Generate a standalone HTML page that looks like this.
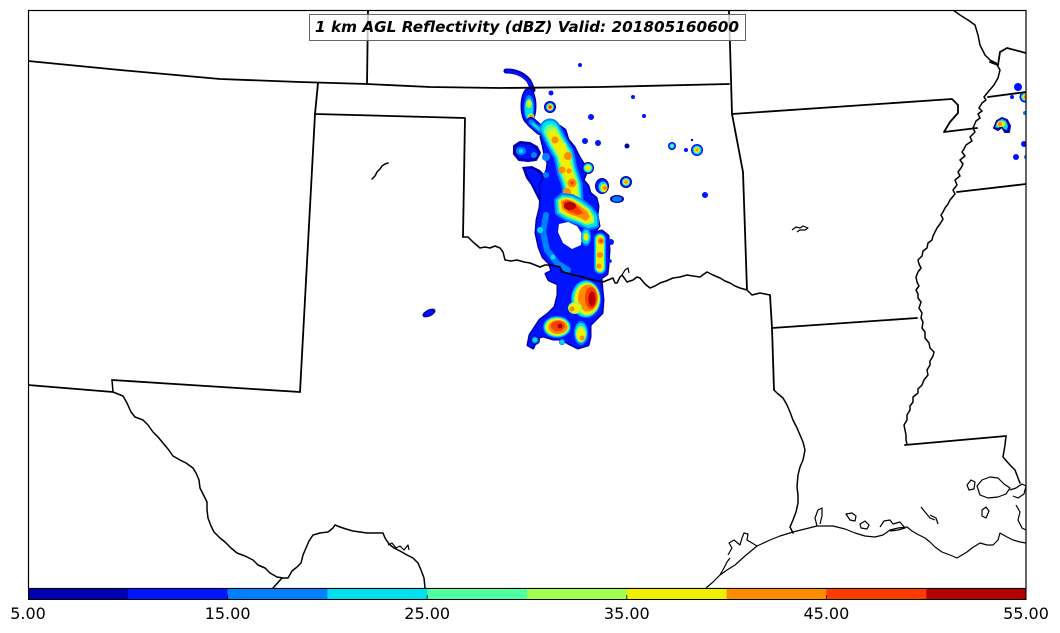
<!DOCTYPE html>
<html><head><meta charset="utf-8"><style>
html,body{margin:0;padding:0;background:#fff;}
svg{display:block;}
.s{fill:none;stroke:#000;stroke-width:1.8;stroke-linejoin:round;stroke-linecap:round;}
.r{fill:none;stroke:#000;stroke-width:1.5;stroke-linejoin:round;stroke-linecap:round;}
.c{fill:none;stroke:#000;stroke-width:1.2;stroke-linejoin:round;}
.k{fill:none;stroke-linecap:round;stroke-linejoin:round;}
</style></head><body>
<svg width="1060" height="633" viewBox="0 0 1060 633" xmlns="http://www.w3.org/2000/svg">
<defs><clipPath id="m"><rect x="28" y="10" width="998" height="578"/></clipPath></defs>
<rect width="1060" height="633" fill="#fff"/>
<g clip-path="url(#m)">
<!-- arc -->
<path d="M506,71 Q521,71 529,81 L533,90" class="k" stroke="#0000b0" stroke-width="5"/>
<path d="M507,71 Q521,72 529,82 L532,89" class="k" stroke="#0014ff" stroke-width="2.5"/>
<!-- cell A -->
<ellipse cx="528.5" cy="106" rx="8" ry="18.5" fill="#0000b0"/>
<ellipse cx="528.5" cy="106" rx="6.5" ry="17" fill="#0014ff"/>
<ellipse cx="529" cy="108" rx="5" ry="13" fill="#0080ff"/>
<ellipse cx="529" cy="109" rx="4" ry="11" fill="#00e0f0"/>
<ellipse cx="529" cy="104" rx="3" ry="4" fill="#a0ff50"/>
<circle cx="529" cy="103" r="2" fill="#f0f000"/>
<circle cx="531" cy="117" r="3.5" fill="#a0ff50"/>
<circle cx="531" cy="117.5" r="2.5" fill="#ff8c00"/>
<circle cx="531" cy="118" r="1.3" fill="#ff3c00"/>
<path d="M531,122 L540,130 L550,134" class="k" stroke="#0000b0" stroke-width="10"/>
<path d="M531,122 L540,130 L550,134" class="k" stroke="#0014ff" stroke-width="8"/>
<path d="M531,122 L540,130 L550,134" class="k" stroke="#0080ff" stroke-width="5"/>
<path d="M533,124 L540,130 L548,133" class="k" stroke="#00e0f0" stroke-width="2.5"/>
<!-- cell B -->
<circle cx="550" cy="107" r="6" fill="#0000b0"/>
<circle cx="550" cy="107" r="5" fill="#0014ff"/>
<circle cx="550" cy="107" r="4" fill="#00e0f0"/>
<circle cx="550" cy="107" r="3" fill="#f0f000"/>
<circle cx="550" cy="107" r="1.8" fill="#ff3c00"/>
<!-- left blob -->
<path d="M514,146 L520,142 L530,143 L537,147 L540,153 L536,160 L528,161 L519,160 L514,154 Z" fill="#0000b0" stroke="#0000b0" stroke-width="2" stroke-linejoin="round"/>
<path d="M516,147 L521,144 L530,145 L536,149 L538,154 L534,158 L527,159 L519,158 L516,153 Z" fill="#0014ff"/>
<ellipse cx="521" cy="151" rx="5" ry="4" fill="#0080ff"/>
<circle cx="521" cy="151" r="2" fill="#00e0f0"/>
<circle cx="534" cy="155" r="3" fill="#0080ff"/>
<!-- streak -->
<path d="M522,167 L532,166 L540,170 L546,176 L547,188 L545,200 L539,201 L535,193 L531,185 L526,178 Z" fill="#0000b0"/>
<path d="M526,169 L533,169 L540,174 L543,182 L542,195 L538,194 L533,184 L528,176 Z" fill="#0014ff"/>
<!-- big band polygon -->
<path d="M544,127 L556,124 L565,130 L568,140 L574,147 L579,157 L584,165 L586,173 L583,180 L588,186 L590,193 L596,198 L598,206 L597,215 L599,226 L596,230 L594,233 L602,231 L608,236 L609,250 L608,265 L607,274 L601,278 L602,290 L603,300 L602,313 L595,320 L590,325 L590,337 L588,345 L578,348 L568,343 L561,339 L553,339 L543,336 L537,338 L533,348 L528,345 L530,335 L540,320 L548,314 L555,307 L558,295 L558,284 L549,280 L546,274 L552,271 L549,263 L543,257 L539,247 L536,233 L537,220 L540,208 L541,195 L540,185 L544,177 L547,170 L548,163 L545,155 L543,145 L541,137 Z" fill="#0000b0" stroke="#0000b0" stroke-width="3" stroke-linejoin="round"/>
<path d="M544,127 L556,124 L565,130 L568,140 L574,147 L579,157 L584,165 L586,173 L583,180 L588,186 L590,193 L596,198 L598,206 L597,215 L599,226 L596,230 L594,233 L602,231 L608,236 L609,250 L608,265 L607,274 L601,278 L602,290 L603,300 L602,313 L595,320 L590,325 L590,337 L588,345 L578,348 L568,343 L561,339 L553,339 L543,336 L537,338 L533,348 L528,345 L530,335 L540,320 L548,314 L555,307 L558,295 L558,284 L549,280 L546,274 L552,271 L549,263 L543,257 L539,247 L536,233 L537,220 L540,208 L541,195 L540,185 L544,177 L547,170 L548,163 L545,155 L543,145 L541,137 Z" fill="#0014ff"/>
<circle cx="546" cy="157" r="4" fill="#0080ff"/>
<circle cx="546" cy="175" r="3" fill="#0080ff"/>
<!-- upper spine -->
<path d="M550,129 L556,141 L564,155 L567,170 L572,185 L573,200" class="k" stroke="#0080ff" stroke-width="21"/>
<path d="M550,129 L556,141 L564,155 L567,170 L572,185 L573,200" class="k" stroke="#00e0f0" stroke-width="17"/>
<path d="M551,131 L556,141 L564,155 L567,170 L572,185 L573,200" class="k" stroke="#50ffa0" stroke-width="14"/>
<path d="M552,133 L556,141 L564,155 L567,170 L572,185 L573,200" class="k" stroke="#a0ff50" stroke-width="12"/>
<path d="M553,135 L557,142 L564,155 L567,170 L572,185 L573,200" class="k" stroke="#f0f000" stroke-width="9"/>
<circle cx="555" cy="140" r="3.5" fill="#ff8c00"/>
<circle cx="568" cy="156" r="4" fill="#ff8c00"/>
<circle cx="562" cy="170" r="3.5" fill="#ff8c00"/>
<circle cx="569" cy="171" r="2.5" fill="#ff8c00"/>
<circle cx="572" cy="183" r="4.5" fill="#ff8c00"/>
<circle cx="567" cy="192" r="4" fill="#ff8c00"/>
<circle cx="572" cy="183" r="1.8" fill="#ff3c00"/>
<circle cx="564" cy="145" r="2" fill="#f0f000"/>
<!-- red core -->
<path d="M556,200 L562,195 L572,196 L582,201 L591,208 L597,216 L597,226 L588,228 L578,223 L566,219 L557,213 Z" fill="#0080ff" stroke="#0080ff" stroke-width="4" stroke-linejoin="round"/>
<path d="M556,200 L562,195 L572,196 L582,201 L591,208 L597,216 L597,226 L588,228 L578,223 L566,219 L557,213 Z" fill="#00e0f0"/>
<path d="M558,200 L563,197 L572,198 L581,203 L589,209 L594,216 L594,223 L587,225 L578,221 L567,217 L559,212 Z" fill="#a0ff50"/>
<path d="M559,201 L564,198 L572,199 L580,204 L588,210 L592,216 L592,221 L586,223 L578,219 L568,216 L560,211 Z" fill="#f0f000"/>
<path d="M561,201 L566,199 L573,201 L580,206 L587,211 L590,217 L586,221 L578,217 L569,214 L562,209 Z" fill="#ff8c00"/>
<path d="M563,202 L568,200 L574,203 L579,208 L583,213 L578,215 L570,212 L564,208 Z" fill="#ff3c00"/>
<ellipse cx="570" cy="206" rx="6" ry="4" fill="#b40000"/>
<!-- hole -->
<path d="M559,224 L568,222 L577,226 L582,234 L581,245 L572,249 L563,243 L558,232 Z" fill="#fff"/>
<ellipse cx="586" cy="237" rx="5" ry="9" fill="#0080ff"/>
<ellipse cx="586" cy="237" rx="4" ry="7" fill="#00e0f0"/>
<ellipse cx="586" cy="237" rx="2.5" ry="4" fill="#f0f000"/>
<!-- right column -->
<path d="M600,239 L600,268" class="k" stroke="#0080ff" stroke-width="12"/>
<path d="M600,239 L600,268" class="k" stroke="#00e0f0" stroke-width="10"/>
<path d="M600,239 L600,268" class="k" stroke="#a0ff50" stroke-width="8"/>
<path d="M600,239 L600,268" class="k" stroke="#f0f000" stroke-width="6.5"/>
<circle cx="601" cy="241" r="3.2" fill="#ff8c00"/>
<circle cx="600" cy="255" r="3" fill="#ff8c00"/>
<circle cx="599" cy="266" r="2.5" fill="#ff8c00"/>
<circle cx="601" cy="241" r="1.5" fill="#ff3c00"/>
<!-- left loop -->
<path d="M546,215 L543,232 L547,250 L557,263 L568,270" class="k" stroke="#0080ff" stroke-width="6"/>
<circle cx="540" cy="230" r="3" fill="#00e0f0"/>
<circle cx="553" cy="257" r="2.5" fill="#00e0f0"/>
<!-- lower big blob -->
<ellipse cx="586" cy="299" rx="15" ry="19" fill="#0080ff"/>
<ellipse cx="586" cy="299" rx="14" ry="18" fill="#00e0f0"/>
<ellipse cx="587" cy="299" rx="13" ry="16.5" fill="#a0ff50"/>
<ellipse cx="587" cy="299" rx="12" ry="15" fill="#f0f000"/>
<ellipse cx="588" cy="298" rx="10" ry="13.5" fill="#ff8c00"/>
<ellipse cx="591" cy="298" rx="6" ry="11" fill="#ff3c00"/>
<ellipse cx="592" cy="299" rx="3.5" ry="7.5" fill="#b40000"/>
<ellipse cx="575" cy="308" rx="7" ry="6" fill="#a0ff50"/>
<ellipse cx="575" cy="308" rx="5.5" ry="4.5" fill="#f0f000"/>
<circle cx="572" cy="309" r="2.5" fill="#ff8c00"/>
<!-- lower-left cell -->
<ellipse cx="557" cy="327" rx="14" ry="11" fill="#0080ff"/>
<ellipse cx="557" cy="327" rx="13" ry="10" fill="#00e0f0"/>
<ellipse cx="557" cy="327" rx="12" ry="9" fill="#a0ff50"/>
<ellipse cx="557" cy="327" rx="11" ry="8.2" fill="#f0f000"/>
<ellipse cx="558" cy="327" rx="9.5" ry="7" fill="#ff8c00"/>
<ellipse cx="558" cy="326" rx="7" ry="5" fill="#ff3c00"/>
<circle cx="560" cy="326" r="2.5" fill="#b40000"/>
<!-- lower-middle -->
<ellipse cx="581" cy="333" rx="7" ry="12" fill="#0080ff"/>
<ellipse cx="581" cy="333" rx="6" ry="10" fill="#00e0f0"/>
<ellipse cx="581" cy="334" rx="5" ry="8" fill="#a0ff50"/>
<ellipse cx="581" cy="335" rx="4" ry="6.5" fill="#f0f000"/>
<circle cx="582" cy="338" r="2.5" fill="#ff8c00"/>
<circle cx="535" cy="340" r="5" fill="#0000b0"/>
<circle cx="535" cy="340" r="3.5" fill="#0080ff"/>
<circle cx="535" cy="340" r="2.2" fill="#00e0f0"/>
<circle cx="562" cy="342" r="3" fill="#0080ff"/>
<circle cx="562" cy="342" r="2" fill="#00e0f0"/>
<!-- right cells near band -->
<circle cx="588" cy="168" r="6" fill="#0000b0"/>
<circle cx="588" cy="168" r="5" fill="#0080ff"/>
<circle cx="588" cy="168" r="4" fill="#50ffa0"/>
<circle cx="588" cy="168" r="2.5" fill="#f0f000"/>
<ellipse cx="602" cy="186" rx="7" ry="8" fill="#0000b0"/>
<ellipse cx="602" cy="186" rx="6" ry="7" fill="#0014ff"/>
<ellipse cx="603" cy="187" rx="4.5" ry="5.5" fill="#00e0f0"/>
<ellipse cx="604" cy="188" rx="3.5" ry="4" fill="#f0f000"/>
<circle cx="605" cy="188" r="2.3" fill="#ff8c00"/>
<circle cx="626" cy="182" r="6" fill="#0000b0"/>
<circle cx="626" cy="182" r="5" fill="#0014ff"/>
<circle cx="626" cy="182" r="4" fill="#00e0f0"/>
<circle cx="626" cy="182" r="3" fill="#f0f000"/>
<circle cx="626" cy="182" r="1.8" fill="#ff8c00"/>
<ellipse cx="617" cy="199" rx="7" ry="4" fill="#0000b0"/>
<ellipse cx="617" cy="199" rx="5" ry="2.8" fill="#0080ff"/>
<circle cx="611" cy="242" r="3" fill="#0014ff"/>
<circle cx="610" cy="261" r="1.8" fill="#0014ff"/>
<!-- scattered dots -->
<circle cx="580" cy="65" r="2" fill="#0014ff"/>
<circle cx="551" cy="93" r="2.5" fill="#0014ff"/>
<circle cx="591" cy="117" r="3" fill="#0014ff"/>
<circle cx="585" cy="141" r="3" fill="#0014ff"/>
<circle cx="598" cy="143" r="3" fill="#0014ff"/>
<circle cx="627" cy="146" r="2.5" fill="#0000b0"/>
<circle cx="633" cy="97" r="2" fill="#0014ff"/>
<circle cx="644" cy="116" r="2" fill="#0014ff"/>
<circle cx="672" cy="146" r="4" fill="#0014ff"/>
<circle cx="672" cy="146" r="2.5" fill="#00e0f0"/>
<circle cx="672" cy="146" r="1.2" fill="#f0f000"/>
<circle cx="686" cy="150" r="2" fill="#0014ff"/>
<circle cx="692" cy="140" r="1.2" fill="#0000b0"/>
<circle cx="697" cy="150" r="6" fill="#0014ff"/>
<circle cx="697" cy="150" r="4.5" fill="#00e0f0"/>
<circle cx="697" cy="150" r="3" fill="#f0f000"/>
<circle cx="697" cy="150" r="1.5" fill="#ff8c00"/>
<circle cx="705" cy="195" r="3" fill="#0014ff"/>
<ellipse cx="429" cy="313" rx="7" ry="3.5" fill="#0000b0" transform="rotate(-25 429 313)"/>
<ellipse cx="429" cy="313" rx="4" ry="2" fill="#0014ff" transform="rotate(-25 429 313)"/>
<!-- right edge -->
<circle cx="1018" cy="87" r="4" fill="#0014ff"/>
<circle cx="1012" cy="97" r="2" fill="#0014ff"/>
<circle cx="1025" cy="97" r="5.5" fill="#0014ff"/>
<circle cx="1025" cy="97" r="4" fill="#00e0f0"/>
<circle cx="1025" cy="97" r="2.8" fill="#f0f000"/>
<circle cx="1025.5" cy="97" r="1.6" fill="#ff8c00"/>
<path d="M994,128 L997,121 L1002,118 L1007,120 L1010,126 L1009,132 L1005,132 L1002,127 L998,130 Z" fill="#0000b0" stroke="#0000b0" stroke-width="2" stroke-linejoin="round"/>
<path d="M995,127 L998,121 L1002,119 L1006,121 L1008,126 L1007,130 L1004,129 L1002,126 L998,128 Z" fill="#00e0f0"/>
<ellipse cx="1001" cy="124" rx="4.5" ry="3" fill="#f0f000"/>
<circle cx="1000" cy="124" r="2.2" fill="#ff8c00"/>
<circle cx="1025" cy="113" r="2" fill="#0080ff"/>
<circle cx="1024" cy="144" r="3" fill="#0014ff"/>
<circle cx="1016" cy="157" r="3" fill="#0014ff"/>
<circle cx="1026" cy="157" r="2" fill="#0080ff"/>

<!-- ===== geography ===== -->
<path class="s" d="M28,61 L120,70 L220,79 L300,82 L367,84 L430,87 L500,88 L600,87 L729,84"/>
<path class="s" d="M368,10 L367,84"/>
<path class="s" d="M318,83 L315,114 L465,118 L463,237"/>
<path class="s" d="M729,10 L732,114 L743,172 L747,290"/>
<path class="s" d="M732,114 L952,99 L958,105 L958,113 L950,122 L944,132 L977,128"/>
<path class="s" d="M772,328 L917,318"/>
<path class="s" d="M770,295 L772,328 L774,390"/>
<path class="s" d="M300,392 L315,114"/>
<path class="s" d="M112,380 L300,392"/>
<path class="s" d="M28,385 L113,392"/>
<path class="s" d="M905,445 L1006,436"/>
<path class="s" d="M957,192 L1026,184"/>
<path class="s" d="M988,97 L1026,92"/>
<path class="s" d="M990,62 L998,65 L1000,52 L1007,48 L1026,53"/>
<!-- Red River -->
<path class="r" d="M463,237 L468,237 L473,242 L480,248 L485,247 L490,248 L495,246 L500,248 L503,252 L505,260 L511,261 L517,260 L524,262 L530,263 L535,265 L540,267 L545,265 L550,265 L556,266 L560,267 L562,272 L567,273 L573,275 L578,276 L583,277 L588,279 L593,280 L598,281 L603,282 L608,280 L613,278 L615,283 L617,283 L620,277 L622,275 L625,279 L627,282 L630,281 L633,280 L637,277 L640,278 L645,284 L650,288 L655,286 L660,283 L666,281 L673,278 L680,277 L687,275 L693,276 L700,277 L704,274 L707,272 L713,275 L720,278 L725,281 L730,283 L735,286 L740,288 L747,290 L752,295 L756,294 L760,293 L765,294 L770,295"/>
<path class="c" d="M622,275 L625,270 L628,268 L629,273"/>
<!-- Rio Grande -->
<path class="r" d="M112,380 L113,392 L118,394 L123,396 L127,403 L131,412 L135,417 L143,420 L148,425 L153,432 L158,437 L163,443 L168,449 L173,456 L180,460 L186,463 L193,468 L196,473 L199,480 L200,488 L204,496 L207,502 L207,510 L208,518 L211,526 L214,532 L220,538 L225,542 L231,548 L237,553 L245,556 L253,560 L258,565 L265,568 L270,573 L277,577 L283,578 L288,578 L292,571 L297,567 L301,563 L303,555 L306,548 L309,541 L313,535 L320,533 L328,532 L333,528 L335,525 L340,527 L346,529 L353,531 L360,532 L367,533 L375,533 L383,533 L385,538 L389,544 L394,548 L400,551 L407,555 L413,558 L418,563 L421,570 L424,578 L425,588"/>
<path class="r" d="M282,578 L273,588"/>
<path class="c" d="M388,545 L392,543 L396,548 L400,546 L404,550 L408,545 L409,550"/>
<!-- Mississippi -->
<path class="r" d="M953,10 L960,15 L968,20 L975,25 L978,35 L980,45 L985,55 L990,60 L996,63 L1000,70 L998,78 L994,85 L988,92 L984,97 L986,100 L982,103 L979,108 L982,111 L978,114 L980,118 L976,121 L973,128 L975,132 L970,137 L972,141 L966,145 L964,149 L962,152 L965,156 L960,160 L963,164 L961,168 L958,172 L960,176 L955,180 L957,185 L953,190 L955,194 L950,200 L948,204 L945,208 L943,212 L941,215 L943,219 L940,224 L937,228 L935,232 L933,236 L932,240 L928,243 L927,248 L923,251 L922,256 L918,260 L919,264 L921,268 L918,272 L916,277 L917,282 L919,286 L916,290 L918,294 L918,298 L921,302 L919,308 L922,313 L921,318 L923,322 L922,328 L925,332 L925,338 L929,343 L930,348 L934,352 L933,356 L930,361 L930,365 L927,370 L928,375 L924,380 L922,385 L918,389 L918,393 L913,397 L913,402 L910,406 L910,410 L907,415 L907,420 L904,425 L905,430 L906,435 L906,440 L907,444"/>
<path class="r" d="M1006,436 L1005,445 L1003,457 L1010,465 L1015,470 L1018,478 L1020,483"/>
<!-- Sabine -->
<path class="r" d="M774,390 L777,393 L783,398 L787,405 L790,412 L793,420 L797,428 L800,435 L803,442 L805,450 L803,460 L800,467 L798,475 L797,487 L798,495 L798,503 L796,512 L793,520 L790,527 L793,533"/>
<!-- Gulf coast -->
<path class="c" d="M706,588 L713,582 L720,575 L727,570 L735,565 L745,556 L757,546 L770,540 L780,536 L793,532 L805,529 L817,526 L833,526 L845,529 L855,533 L865,536 L875,537 L883,535 L890,530 L898,528 L907,527 L912,531 L917,534 L925,538 L930,542 L935,547 L942,552 L950,555 L957,558 L962,555 L967,552 L972,548 L980,543 L987,545 L993,545 L998,540 L1000,533 L1007,537 L1013,540 L1020,542 L1026,543"/>
<path class="c" d="M728,555 L732,548 L729,543 L734,540 L740,545 L742,538 L744,533 L748,534 L747,540 L752,543 L757,546"/>
<path class="c" d="M720,575 L724,568 L727,562 L730,558"/>
<path class="c" d="M817,526 L815,518 L818,510 L822,508 L822,516 L820,524"/>
<path class="c" d="M846,514 L852,513 L856,516 L855,521 L850,520 Z"/>
<path class="c" d="M860,524 L865,521 L869,525 L867,529 L861,528 Z"/>
<path class="c" d="M880,527 L884,521 L890,520 L893,524 L900,522 L905,528 L898,530 L890,531"/>
<path class="c" d="M921,507 L925,512 L930,518 L935,520"/>
<path class="c" d="M967,485 L971,480 L975,482 L974,489 L969,490 Z"/>
<path class="c" d="M977,486 L982,480 L990,477 L998,478 L1004,484 L1010,488 L1006,494 L998,497 L988,498 L980,495 Z"/>
<path class="c" d="M982,510 L986,507 L989,511 L986,518 L982,516 Z"/>
<path class="c" d="M1010,490 L1016,488 L1022,484 L1026,486 L1024,494 L1018,498 L1013,496"/>
<path class="c" d="M1016,505 L1020,512 L1018,520 L1022,528 L1026,530"/>
<path class="c" d="M930,515 L936,518 L938,524"/>
<!-- lakes -->
<path class="r" d="M372,179 L375,176 L377,172 L380,169 L382,166 L385,164 L388,163"/>
<path class="c" d="M792,230 L796,227 L800,228 L803,226 L808,228 L805,230 L800,230 L797,232"/>
</g>
<!-- frame -->
<rect x="28.5" y="10.5" width="997.5" height="578" fill="none" stroke="#000" stroke-width="1.2"/>
<!-- colorbar -->
<rect x="28" y="588" width="100" height="11.5" fill="#0000b0"/>
<rect x="127.8" y="588" width="100" height="11.5" fill="#0014ff"/>
<rect x="227.6" y="588" width="100" height="11.5" fill="#0080ff"/>
<rect x="327.4" y="588" width="100" height="11.5" fill="#00e0f0"/>
<rect x="427.2" y="588" width="100" height="11.5" fill="#50ffa0"/>
<rect x="527" y="588" width="100" height="11.5" fill="#a0ff50"/>
<rect x="626.8" y="588" width="100" height="11.5" fill="#f0f000"/>
<rect x="726.6" y="588" width="100" height="11.5" fill="#ff8c00"/>
<rect x="826.4" y="588" width="100" height="11.5" fill="#ff3c00"/>
<rect x="926.2" y="588" width="99.8" height="11.5" fill="#b40000"/>
<rect x="28.5" y="588.5" width="997.5" height="11" fill="none" stroke="#000" stroke-width="1"/>
<g stroke="#000" stroke-width="0.8">
<line x1="227.6" y1="599.5" x2="227.6" y2="595"/>
<line x1="427.2" y1="599.5" x2="427.2" y2="595"/>
<line x1="626.8" y1="599.5" x2="626.8" y2="595"/>
<line x1="826.4" y1="599.5" x2="826.4" y2="595"/>
</g>
<g font-family="'DejaVu Sans','Liberation Sans',sans-serif" font-size="16" fill="#000" text-anchor="middle">
<text x="28" y="619">5.00</text>
<text x="227.6" y="619">15.00</text>
<text x="427.2" y="619">25.00</text>
<text x="626.8" y="619">35.00</text>
<text x="826.4" y="619">45.00</text>
<text x="1026" y="619">55.00</text>
</g>
<!-- title -->
<rect x="309.5" y="14.5" width="436" height="26" fill="#fff" fill-opacity="0.75" stroke="#666" stroke-width="1"/>
<text x="315" y="32" font-family="'DejaVu Sans','Liberation Sans',sans-serif" font-size="15.2" font-weight="bold" font-style="italic" fill="#000" textLength="424" lengthAdjust="spacingAndGlyphs">1 km AGL Reflectivity (dBZ) Valid: 201805160600</text>
</svg>
</body></html>
